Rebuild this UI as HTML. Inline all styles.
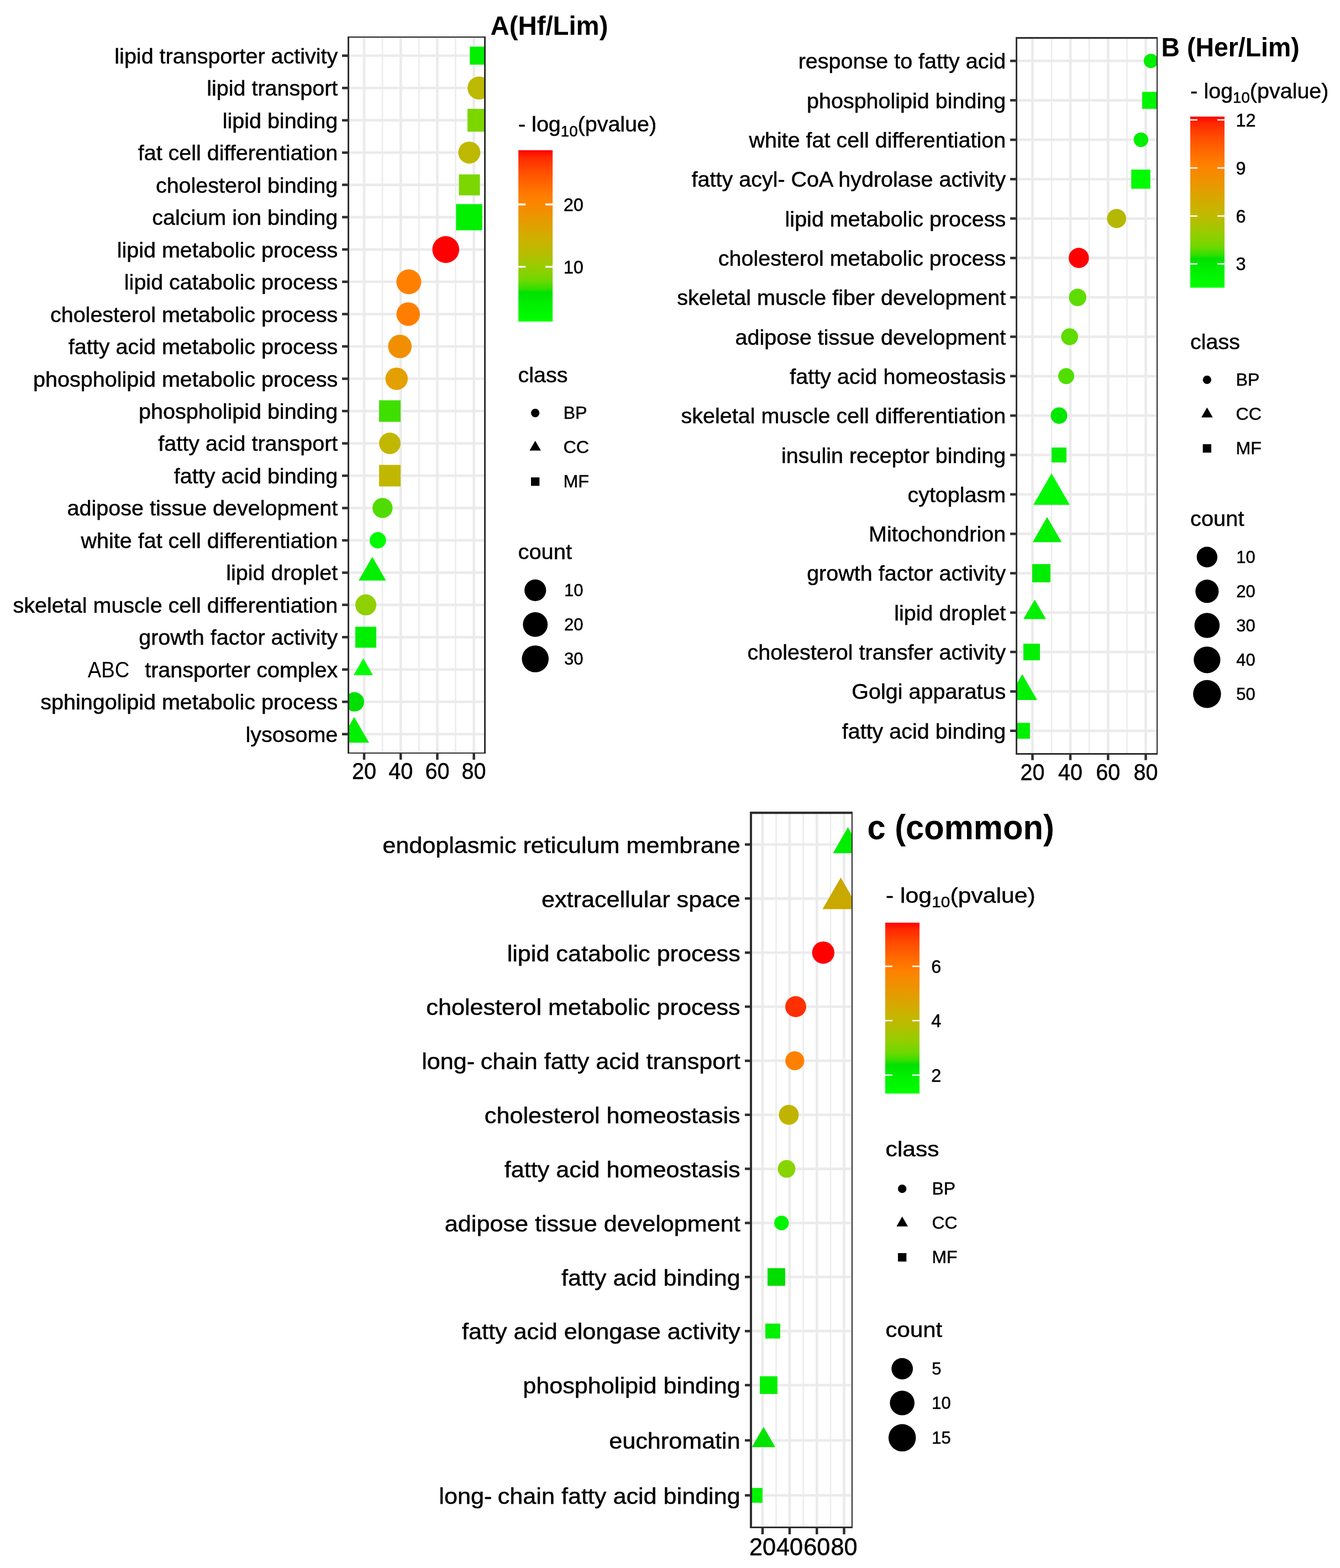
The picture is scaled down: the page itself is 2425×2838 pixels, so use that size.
<!DOCTYPE html>
<html lang="en"><head><meta charset="utf-8"><title>GO enrichment dot plots</title>
<style>
html,body{margin:0;padding:0;background:#fff}
body{width:2425px;height:2838px;overflow:hidden}
svg{display:block}
text{font-family:"Liberation Sans", sans-serif;fill:#000;white-space:pre;stroke:#000;stroke-width:0.5px;stroke-linejoin:round}
.ttl{stroke:none}
.lt{stroke:none;font-size:41.4px}
</style></head><body>
<svg width="2425" height="2838" viewBox="0 0 2425 2838">
<rect width="2425" height="2838" fill="#fff"/>
<g id="panelA">
<clipPath id="clipA"><rect x="632" y="68.2" width="244" height="1293.8"/></clipPath>
<g clip-path="url(#clipA)">
<path d="M692.1 68.2V1362M758.3 68.2V1362M824.5 68.2V1362" stroke="#EBEBEB" stroke-width="2.4" fill="none"/>
<path d="M659 68.2V1362M725.2 68.2V1362M791.4 68.2V1362M857.6 68.2V1362M632 100.7H876M632 159.18H876M632 217.66H876M632 276.14H876M632 334.62H876M632 393.1H876M632 451.58H876M632 510.06H876M632 568.54H876M632 627.02H876M632 685.5H876M632 743.98H876M632 802.46H876M632 860.94H876M632 919.42H876M632 977.9H876M632 1036.38H876M632 1094.86H876M632 1153.34H876M632 1211.82H876M632 1270.3H876M632 1328.78H876" stroke="#EBEBEB" stroke-width="4.6" fill="none"/>
<rect x="850.2" y="84.4" width="32.6" height="32.6" fill="#00F000"/>
<circle cx="866.8" cy="159.18" r="20.8" fill="#BDB800"/>
<rect x="846" y="196.96" width="41.4" height="41.4" fill="#7CD600"/>
<circle cx="849.3" cy="276.14" r="20" fill="#BDB800"/>
<rect x="830.5" y="315.62" width="38" height="38" fill="#7CD600"/>
<rect x="825.3" y="369.4" width="47.4" height="47.4" fill="#00F000"/>
<circle cx="806.7" cy="451.58" r="24.3" fill="#FF0000"/>
<circle cx="739.8" cy="510.06" r="22.5" fill="#FF8000"/>
<circle cx="738.7" cy="568.54" r="21.3" fill="#FF7E00"/>
<circle cx="723.7" cy="627.02" r="21.3" fill="#F09000"/>
<circle cx="717.7" cy="685.5" r="20.3" fill="#E3A000"/>
<rect x="686" y="724.48" width="39" height="39" fill="#3FDF00"/>
<circle cx="705.5" cy="802.46" r="19.5" fill="#C2B700"/>
<rect x="686" y="841.44" width="39" height="39" fill="#C2B700"/>
<circle cx="692.3" cy="919.42" r="18.2" fill="#50DC00"/>
<circle cx="683.8" cy="977.9" r="14.8" fill="#00FA00"/>
<polygon points="673.8,1007.77 698.58,1050.69 649.02,1050.69" fill="#00F000"/>
<circle cx="662" cy="1094.86" r="19" fill="#90D000"/>
<rect x="643" y="1134.34" width="38" height="38" fill="#00EE00"/>
<polygon points="657.5,1191.6 675.01,1221.93 639.99,1221.93" fill="#00FF00"/>
<circle cx="641.5" cy="1270.3" r="17.5" fill="#00E000"/>
<polygon points="641,1297.68 667.94,1344.33 614.06,1344.33" fill="#00F000"/>
</g>
<path fill-rule="evenodd" fill="#2F2F2F" d="M629 66H879V1364H629ZM632 68.2H876V1362H632Z"/>
<path d="M619 100.7H629.5M619 159.18H629.5M619 217.66H629.5M619 276.14H629.5M619 334.62H629.5M619 393.1H629.5M619 451.58H629.5M619 510.06H629.5M619 568.54H629.5M619 627.02H629.5M619 685.5H629.5M619 743.98H629.5M619 802.46H629.5M619 860.94H629.5M619 919.42H629.5M619 977.9H629.5M619 1036.38H629.5M619 1094.86H629.5M619 1153.34H629.5M619 1211.82H629.5M619 1270.3H629.5M619 1328.78H629.5M659 1363.5V1375M725.2 1363.5V1375M791.4 1363.5V1375M857.6 1363.5V1375" stroke="#2F2F2F" stroke-width="4.5" fill="none"/>
<text transform="translate(611.3 114.7) scale(1.013 1)" font-size="39" text-anchor="end">lipid transporter activity</text>
<text transform="translate(611.3 173.18) scale(1.013 1)" font-size="39" text-anchor="end">lipid transport</text>
<text transform="translate(611.3 231.66) scale(1.013 1)" font-size="39" text-anchor="end">lipid binding</text>
<text transform="translate(611.3 290.14) scale(1.013 1)" font-size="39" text-anchor="end">fat cell differentiation</text>
<text transform="translate(611.3 348.62) scale(1.013 1)" font-size="39" text-anchor="end">cholesterol binding</text>
<text transform="translate(611.3 407.1) scale(1.013 1)" font-size="39" text-anchor="end">calcium ion binding</text>
<text transform="translate(611.3 465.58) scale(1.013 1)" font-size="39" text-anchor="end">lipid metabolic process</text>
<text transform="translate(611.3 524.06) scale(1.013 1)" font-size="39" text-anchor="end">lipid catabolic process</text>
<text transform="translate(611.3 582.54) scale(1.013 1)" font-size="39" text-anchor="end">cholesterol metabolic process</text>
<text transform="translate(611.3 641.02) scale(1.013 1)" font-size="39" text-anchor="end">fatty acid metabolic process</text>
<text transform="translate(611.3 699.5) scale(1.013 1)" font-size="39" text-anchor="end">phospholipid metabolic process</text>
<text transform="translate(611.3 757.98) scale(1.013 1)" font-size="39" text-anchor="end">phospholipid binding</text>
<text transform="translate(611.3 816.46) scale(1.013 1)" font-size="39" text-anchor="end">fatty acid transport</text>
<text transform="translate(611.3 874.94) scale(1.013 1)" font-size="39" text-anchor="end">fatty acid binding</text>
<text transform="translate(611.3 933.42) scale(1.013 1)" font-size="39" text-anchor="end">adipose tissue development</text>
<text transform="translate(611.3 991.9) scale(1.013 1)" font-size="39" text-anchor="end">white fat cell differentiation</text>
<text transform="translate(611.3 1050.38) scale(1.013 1)" font-size="39" text-anchor="end">lipid droplet</text>
<text transform="translate(611.3 1108.86) scale(1.013 1)" font-size="39" text-anchor="end">skeletal muscle cell differentiation</text>
<text transform="translate(611.3 1167.34) scale(1.013 1)" font-size="39" text-anchor="end">growth factor activity</text>
<text transform="translate(611.3 1225.82) scale(1.013 1)" font-size="39" text-anchor="end"><tspan class="lt" textLength="74.5" lengthAdjust="spacingAndGlyphs">ABC</tspan>  <tspan dx="6">transporter complex</tspan></text>
<text transform="translate(611.3 1284.3) scale(1.013 1)" font-size="39" text-anchor="end">sphingolipid metabolic process</text>
<text transform="translate(611.3 1342.78) scale(1.013 1)" font-size="39" text-anchor="end">lysosome</text>
<text transform="translate(659 1409.6) scale(0.95 1)" font-size="41.6" text-anchor="middle">20</text>
<text transform="translate(725.2 1409.6) scale(0.95 1)" font-size="41.6" text-anchor="middle">40</text>
<text transform="translate(791.4 1409.6) scale(0.95 1)" font-size="41.6" text-anchor="middle">60</text>
<text transform="translate(857.6 1409.6) scale(0.95 1)" font-size="41.6" text-anchor="middle">80</text>
</g>
<text transform="translate(887.6 62.6) scale(0.994 1)" font-size="47.6" class="ttl" font-weight="bold">A(Hf/Lim)</text>
<text transform="translate(938 238.4) scale(1.0125 1)" font-size="39">- log<tspan font-size="27.3" dy="8.58">10</tspan><tspan dy="-8.58">(pvalue)</tspan></text>
<linearGradient id="gradA" x1="0" y1="1" x2="0" y2="0"><stop offset="0" stop-color="#00FF00"/><stop offset="0.09" stop-color="#00F200"/><stop offset="0.17" stop-color="#00E100"/><stop offset="0.19" stop-color="#30DF00"/><stop offset="0.24" stop-color="#70D800"/><stop offset="0.32" stop-color="#98CC00"/><stop offset="0.4" stop-color="#B8BC00"/><stop offset="0.46" stop-color="#C8B400"/><stop offset="0.56" stop-color="#E0A000"/><stop offset="0.64" stop-color="#F09000"/><stop offset="0.68" stop-color="#F88800"/><stop offset="0.72" stop-color="#FF8000"/><stop offset="0.8" stop-color="#FF6800"/><stop offset="0.88" stop-color="#FF4C00"/><stop offset="0.96" stop-color="#FF2800"/><stop offset="1" stop-color="#FF0000"/></linearGradient>
<rect x="938.1" y="271.8" width="62" height="310.2" fill="url(#gradA)"/>
<path d="M938.1 370h13.1M987 370h13.1M938.1 482.8h13.1M987 482.8h13.1" stroke="#fff" stroke-width="3.3" fill="none"/>
<text x="1019.8" y="381.7" font-size="32.5">20</text>
<text x="1019.8" y="494.5" font-size="32.5">10</text>
<text transform="translate(937.5 692.4) scale(1.02 1)" font-size="38.7">class</text>
<circle cx="968.6" cy="747.5" r="7.65" fill="#000"/>
<text transform="translate(1019.4 758.2) scale(1.04 1)" font-size="31">BP</text>
<polygon points="968.6,797.7 978.9,815.55 958.3,815.55" fill="#000"/>
<text transform="translate(1019.4 820.3) scale(1.04 1)" font-size="31">CC</text>
<rect x="960.95" y="864.05" width="15.3" height="15.3" fill="#000"/>
<text transform="translate(1019.4 882.4) scale(1.04 1)" font-size="31">MF</text>
<text transform="translate(937.5 1012.2) scale(1.03 1)" font-size="38.7">count</text>
<circle cx="968.7" cy="1068.3" r="19.6" fill="#000"/>
<text x="1021" y="1079" font-size="31">10</text>
<circle cx="968.7" cy="1130.4" r="22.4" fill="#000"/>
<text x="1021" y="1141.1" font-size="31">20</text>
<circle cx="968.7" cy="1192.5" r="24.3" fill="#000"/>
<text x="1021" y="1203.2" font-size="31">30</text>
<g id="panelB">
<clipPath id="clipB"><rect x="1841" y="70.2" width="252" height="1292.7"/></clipPath>
<g clip-path="url(#clipB)">
<path d="M1903 70.2V1362.9M1971 70.2V1362.9M2039.5 70.2V1362.9" stroke="#EBEBEB" stroke-width="2.4" fill="none"/>
<path d="M1868.5 70.2V1362.9M1937 70.2V1362.9M2005.3 70.2V1362.9M2073.5 70.2V1362.9M1841 110.3H2093M1841 181.62H2093M1841 252.94H2093M1841 324.26H2093M1841 395.58H2093M1841 466.9H2093M1841 538.22H2093M1841 609.54H2093M1841 680.86H2093M1841 752.18H2093M1841 823.5H2093M1841 894.82H2093M1841 966.14H2093M1841 1037.46H2093M1841 1108.78H2093M1841 1180.1H2093M1841 1251.42H2093M1841 1322.74H2093" stroke="#EBEBEB" stroke-width="4.6" fill="none"/>
<circle cx="2082.8" cy="110.3" r="13" fill="#00EE00"/>
<rect x="2067" y="166.32" width="30.6" height="30.6" fill="#00F500"/>
<circle cx="2064.8" cy="252.94" r="13.2" fill="#00F000"/>
<rect x="2047.2" y="306.96" width="34.6" height="34.6" fill="#00FA00"/>
<circle cx="2020.7" cy="395.58" r="17.3" fill="#B4B800"/>
<circle cx="1952.3" cy="466.9" r="18.3" fill="#FF0000"/>
<circle cx="1950.2" cy="538.22" r="15.8" fill="#5EDC00"/>
<circle cx="1935.7" cy="609.54" r="15.3" fill="#5EDC00"/>
<circle cx="1929.5" cy="680.86" r="14.5" fill="#50DF00"/>
<circle cx="1916.5" cy="752.18" r="15" fill="#00E800"/>
<rect x="1903" y="810" width="27" height="27" fill="#00F000"/>
<polygon points="1903,856.72 1936,913.87 1870,913.87" fill="#00F800"/>
<polygon points="1895,935.82 1921.26,981.3 1868.74,981.3" fill="#00F000"/>
<rect x="1868" y="1020.96" width="33" height="33" fill="#00EC00"/>
<polygon points="1872.5,1085.14 1892.97,1120.6 1852.03,1120.6" fill="#00F000"/>
<rect x="1852" y="1165.1" width="30" height="30" fill="#00F000"/>
<polygon points="1850,1220.32 1876.94,1266.97 1823.06,1266.97" fill="#00F000"/>
<rect x="1835.1" y="1308.34" width="28.8" height="28.8" fill="#00F000"/>
</g>
<path fill-rule="evenodd" fill="#2F2F2F" d="M1838.1 67.1H2095.1V1365.9H1838.1ZM1841 70.2H2093V1362.9H1841Z"/>
<path d="M1828.1 110.3H1838.6M1828.1 181.62H1838.6M1828.1 252.94H1838.6M1828.1 324.26H1838.6M1828.1 395.58H1838.6M1828.1 466.9H1838.6M1828.1 538.22H1838.6M1828.1 609.54H1838.6M1828.1 680.86H1838.6M1828.1 752.18H1838.6M1828.1 823.5H1838.6M1828.1 894.82H1838.6M1828.1 966.14H1838.6M1828.1 1037.46H1838.6M1828.1 1108.78H1838.6M1828.1 1180.1H1838.6M1828.1 1251.42H1838.6M1828.1 1322.74H1838.6M1868.5 1365.4V1375.7M1937 1365.4V1375.7M2005.3 1365.4V1375.7M2073.5 1365.4V1375.7" stroke="#2F2F2F" stroke-width="4.5" fill="none"/>
<text transform="translate(1820.2 124.3) scale(1.013 1)" font-size="39" text-anchor="end">response to fatty acid</text>
<text transform="translate(1820.2 195.62) scale(1.013 1)" font-size="39" text-anchor="end">phospholipid binding</text>
<text transform="translate(1820.2 266.94) scale(1.013 1)" font-size="39" text-anchor="end">white fat cell differentiation</text>
<text transform="translate(1820.2 338.26) scale(1.013 1)" font-size="39" text-anchor="end">fatty acyl- CoA hydrolase activity</text>
<text transform="translate(1820.2 409.58) scale(1.013 1)" font-size="39" text-anchor="end">lipid metabolic process</text>
<text transform="translate(1820.2 480.9) scale(1.013 1)" font-size="39" text-anchor="end">cholesterol metabolic process</text>
<text transform="translate(1820.2 552.22) scale(1.013 1)" font-size="39" text-anchor="end">skeletal muscle fiber development</text>
<text transform="translate(1820.2 623.54) scale(1.013 1)" font-size="39" text-anchor="end">adipose tissue development</text>
<text transform="translate(1820.2 694.86) scale(1.013 1)" font-size="39" text-anchor="end">fatty acid homeostasis</text>
<text transform="translate(1820.2 766.18) scale(1.013 1)" font-size="39" text-anchor="end">skeletal muscle cell differentiation</text>
<text transform="translate(1820.2 837.5) scale(1.013 1)" font-size="39" text-anchor="end">insulin receptor binding</text>
<text transform="translate(1820.2 908.82) scale(1.013 1)" font-size="39" text-anchor="end">cytoplasm</text>
<text transform="translate(1820.2 980.14) scale(1.013 1)" font-size="39" text-anchor="end">Mitochondrion</text>
<text transform="translate(1820.2 1051.46) scale(1.013 1)" font-size="39" text-anchor="end">growth factor activity</text>
<text transform="translate(1820.2 1122.78) scale(1.013 1)" font-size="39" text-anchor="end">lipid droplet</text>
<text transform="translate(1820.2 1194.1) scale(1.013 1)" font-size="39" text-anchor="end">cholesterol transfer activity</text>
<text transform="translate(1820.2 1265.42) scale(1.013 1)" font-size="39" text-anchor="end">Golgi apparatus</text>
<text transform="translate(1820.2 1336.74) scale(1.013 1)" font-size="39" text-anchor="end">fatty acid binding</text>
<text transform="translate(1868.5 1411.5) scale(0.95 1)" font-size="41.6" text-anchor="middle">20</text>
<text transform="translate(1937 1411.5) scale(0.95 1)" font-size="41.6" text-anchor="middle">40</text>
<text transform="translate(2005.3 1411.5) scale(0.95 1)" font-size="41.6" text-anchor="middle">60</text>
<text transform="translate(2073.5 1411.5) scale(0.95 1)" font-size="41.6" text-anchor="middle">80</text>
</g>
<text transform="translate(2101.6 102) scale(0.975 1)" font-size="47.6" class="ttl" font-weight="bold">B (Her/Lim)</text>
<text transform="translate(2154.3 177.6) scale(1.0125 1)" font-size="39">- log<tspan font-size="27.3" dy="8.58">10</tspan><tspan dy="-8.58">(pvalue)</tspan></text>
<linearGradient id="gradB" x1="0" y1="1" x2="0" y2="0"><stop offset="0" stop-color="#00FF00"/><stop offset="0.09" stop-color="#00F200"/><stop offset="0.17" stop-color="#00E100"/><stop offset="0.19" stop-color="#30DF00"/><stop offset="0.24" stop-color="#70D800"/><stop offset="0.32" stop-color="#98CC00"/><stop offset="0.4" stop-color="#B8BC00"/><stop offset="0.46" stop-color="#C8B400"/><stop offset="0.56" stop-color="#E0A000"/><stop offset="0.64" stop-color="#F09000"/><stop offset="0.68" stop-color="#F88800"/><stop offset="0.72" stop-color="#FF8000"/><stop offset="0.8" stop-color="#FF6800"/><stop offset="0.88" stop-color="#FF4C00"/><stop offset="0.96" stop-color="#FF2800"/><stop offset="1" stop-color="#FF0000"/></linearGradient>
<rect x="2154" y="211" width="62" height="309.7" fill="url(#gradB)"/>
<path d="M2154 217h13.1M2202.9 217h13.1M2154 304h13.1M2202.9 304h13.1M2154 391h13.1M2202.9 391h13.1M2154 477.5h13.1M2202.9 477.5h13.1" stroke="#fff" stroke-width="2.4" fill="none"/>
<text x="2236.5" y="228.5" font-size="32.5">12</text>
<text x="2236.5" y="315.5" font-size="32.5">9</text>
<text x="2236.5" y="402.5" font-size="32.5">6</text>
<text x="2236.5" y="489" font-size="32.5">3</text>
<text transform="translate(2154 632) scale(1.02 1)" font-size="38.7">class</text>
<circle cx="2184.4" cy="687.4" r="7.65" fill="#000"/>
<text transform="translate(2236.4 698.1) scale(1.04 1)" font-size="31">BP</text>
<polygon points="2184.4,737.6 2194.7,755.45 2174.1,755.45" fill="#000"/>
<text transform="translate(2236.4 760.2) scale(1.04 1)" font-size="31">CC</text>
<rect x="2176.75" y="803.95" width="15.3" height="15.3" fill="#000"/>
<text transform="translate(2236.4 822.3) scale(1.04 1)" font-size="31">MF</text>
<text transform="translate(2154 952) scale(1.03 1)" font-size="38.7">count</text>
<circle cx="2184.4" cy="1008.3" r="18.7" fill="#000"/>
<text x="2237.2" y="1019" font-size="31">10</text>
<circle cx="2184.4" cy="1070.2" r="21.1" fill="#000"/>
<text x="2237.2" y="1080.9" font-size="31">20</text>
<circle cx="2184.4" cy="1132" r="22.8" fill="#000"/>
<text x="2237.2" y="1142.7" font-size="31">30</text>
<circle cx="2184.4" cy="1194.3" r="24.1" fill="#000"/>
<text x="2237.2" y="1205" font-size="31">40</text>
<circle cx="2184.4" cy="1256.1" r="25.3" fill="#000"/>
<text x="2237.2" y="1266.8" font-size="31">50</text>
<g id="panelC">
<clipPath id="clipC"><rect x="1361" y="1473.2" width="179.9" height="1289.9"/></clipPath>
<g clip-path="url(#clipC)">
<path d="M1404.5 1473.2V2763.1M1453.6 1473.2V2763.1M1503 1473.2V2763.1" stroke="#EBEBEB" stroke-width="2.4" fill="none"/>
<path d="M1380 1473.2V2763.1M1429 1473.2V2763.1M1478.3 1473.2V2763.1M1527.5 1473.2V2763.1M1361 1528.5H1540.9M1361 1626.35H1540.9M1361 1724.2H1540.9M1361 1822.05H1540.9M1361 1919.9H1540.9M1361 2017.75H1540.9M1361 2115.6H1540.9M1361 2213.45H1540.9M1361 2311.3H1540.9M1361 2409.15H1540.9M1361 2507H1540.9M1361 2607H1540.9M1361 2706.5H1540.9" stroke="#EBEBEB" stroke-width="4.6" fill="none"/>
<polygon points="1534.5,1497.24 1561.57,1544.13 1507.43,1544.13" fill="#00EE00"/>
<polygon points="1521.5,1588.25 1554.5,1645.4 1488.5,1645.4" fill="#C9A800"/>
<circle cx="1489.8" cy="1724.2" r="20.2" fill="#FF0000"/>
<circle cx="1440" cy="1822.05" r="19" fill="#FF3000"/>
<circle cx="1438.3" cy="1919.9" r="17.2" fill="#FF8000"/>
<circle cx="1427.5" cy="2017.75" r="18" fill="#C0B400"/>
<circle cx="1423.5" cy="2115.6" r="16" fill="#88D400"/>
<circle cx="1414.3" cy="2213.45" r="13.2" fill="#00F500"/>
<rect x="1389" y="2295.3" width="32" height="32" fill="#00DD00"/>
<rect x="1385" y="2395.65" width="27" height="27" fill="#00F000"/>
<rect x="1375" y="2491" width="32" height="32" fill="#00F000"/>
<polygon points="1381.8,2582.43 1403.08,2619.29 1360.52,2619.29" fill="#00E400"/>
<rect x="1353.1" y="2693.1" width="26.8" height="26.8" fill="#00F400"/>
</g>
<path fill-rule="evenodd" fill="#2F2F2F" d="M1357 1469H1543V2765.9H1357ZM1361 1473.2H1540.9V2763.1H1361Z"/>
<path d="M1348 1528.5H1357.5M1348 1626.35H1357.5M1348 1724.2H1357.5M1348 1822.05H1357.5M1348 1919.9H1357.5M1348 2017.75H1357.5M1348 2115.6H1357.5M1348 2213.45H1357.5M1348 2311.3H1357.5M1348 2409.15H1357.5M1348 2507H1357.5M1348 2607H1357.5M1348 2706.5H1357.5M1380 2765.4V2776.9M1429 2765.4V2776.9M1478.3 2765.4V2776.9M1527.5 2765.4V2776.9" stroke="#2F2F2F" stroke-width="4.5" fill="none"/>
<text transform="translate(1339.7 1543.8) scale(1.0527 1)" font-size="41" text-anchor="end">endoplasmic reticulum membrane</text>
<text transform="translate(1339.7 1641.65) scale(1.0527 1)" font-size="41" text-anchor="end">extracellular space</text>
<text transform="translate(1339.7 1739.5) scale(1.0527 1)" font-size="41" text-anchor="end">lipid catabolic process</text>
<text transform="translate(1339.7 1837.35) scale(1.0527 1)" font-size="41" text-anchor="end">cholesterol metabolic process</text>
<text transform="translate(1339.7 1935.2) scale(1.0527 1)" font-size="41" text-anchor="end">long- <tspan dx="-1.4">chain fatty acid transport</tspan></text>
<text transform="translate(1339.7 2033.05) scale(1.0527 1)" font-size="41" text-anchor="end">cholesterol homeostasis</text>
<text transform="translate(1339.7 2130.9) scale(1.0527 1)" font-size="41" text-anchor="end">fatty acid homeostasis</text>
<text transform="translate(1339.7 2228.75) scale(1.0527 1)" font-size="41" text-anchor="end">adipose tissue development</text>
<text transform="translate(1339.7 2326.6) scale(1.0527 1)" font-size="41" text-anchor="end">fatty acid binding</text>
<text transform="translate(1339.7 2424.45) scale(1.0527 1)" font-size="41" text-anchor="end">fatty acid elongase activity</text>
<text transform="translate(1339.7 2522.3) scale(1.0527 1)" font-size="41" text-anchor="end">phospholipid binding</text>
<text transform="translate(1339.7 2622.3) scale(1.0527 1)" font-size="41" text-anchor="end">euchromatin</text>
<text transform="translate(1339.7 2721.8) scale(1.0527 1)" font-size="41" text-anchor="end">long- <tspan dx="-1.4">chain fatty acid binding</tspan></text>
<text transform="translate(1380 2814.6) scale(0.994 1)" font-size="43.6" text-anchor="middle">20</text>
<text transform="translate(1429 2814.6) scale(0.994 1)" font-size="43.6" text-anchor="middle">40</text>
<text transform="translate(1478.3 2814.6) scale(0.994 1)" font-size="43.6" text-anchor="middle">60</text>
<text transform="translate(1527.5 2814.6) scale(0.994 1)" font-size="43.6" text-anchor="middle">80</text>
</g>
<text transform="translate(1569.4 1519.4) scale(0.942 1)" font-size="63.4" class="ttl" font-weight="bold">c (common)</text>
<text transform="translate(1603 1633.6) scale(1.0850 1)" font-size="39.4">- log<tspan font-size="27.58" dy="8.67">10</tspan><tspan dy="-8.67">(pvalue)</tspan></text>
<linearGradient id="gradC" x1="0" y1="1" x2="0" y2="0"><stop offset="0" stop-color="#00FF00"/><stop offset="0.09" stop-color="#00F200"/><stop offset="0.17" stop-color="#00E100"/><stop offset="0.19" stop-color="#30DF00"/><stop offset="0.24" stop-color="#70D800"/><stop offset="0.32" stop-color="#98CC00"/><stop offset="0.4" stop-color="#B8BC00"/><stop offset="0.46" stop-color="#C8B400"/><stop offset="0.56" stop-color="#E0A000"/><stop offset="0.64" stop-color="#F09000"/><stop offset="0.68" stop-color="#F88800"/><stop offset="0.72" stop-color="#FF8000"/><stop offset="0.8" stop-color="#FF6800"/><stop offset="0.88" stop-color="#FF4C00"/><stop offset="0.96" stop-color="#FF2800"/><stop offset="1" stop-color="#FF0000"/></linearGradient>
<rect x="1602" y="1670" width="62" height="309.3" fill="url(#gradC)"/>
<path d="M1602 1749h13.1M1650.9 1749h13.1M1602 1847.3h13.1M1650.9 1847.3h13.1M1602 1946h13.1M1650.9 1946h13.1" stroke="#fff" stroke-width="2.6" fill="none"/>
<text x="1685.2" y="1760.7" font-size="32.5">6</text>
<text x="1685.2" y="1859" font-size="32.5">4</text>
<text x="1685.2" y="1957.7" font-size="32.5">2</text>
<text transform="translate(1602.6 2092.5) scale(1.1 1)" font-size="38.7">class</text>
<circle cx="1632.7" cy="2151.7" r="7.65" fill="#000"/>
<text transform="translate(1686.5 2162.4) scale(1.03 1)" font-size="31">BP</text>
<polygon points="1632.7,2201.8 1643,2219.65 1622.4,2219.65" fill="#000"/>
<text transform="translate(1686.5 2224.4) scale(1.03 1)" font-size="31">CC</text>
<rect x="1625.05" y="2268.05" width="15.3" height="15.3" fill="#000"/>
<text transform="translate(1686.5 2286.4) scale(1.03 1)" font-size="31">MF</text>
<text transform="translate(1602.6 2420.3) scale(1.085 1)" font-size="38.7">count</text>
<circle cx="1632.7" cy="2477.3" r="19.4" fill="#000"/>
<text x="1686.3" y="2488" font-size="31">5</text>
<circle cx="1632.7" cy="2539.3" r="22.3" fill="#000"/>
<text x="1686.3" y="2550" font-size="31">10</text>
<circle cx="1632.7" cy="2602.3" r="24.8" fill="#000"/>
<text x="1686.3" y="2613" font-size="31">15</text>
</svg>
</body></html>
